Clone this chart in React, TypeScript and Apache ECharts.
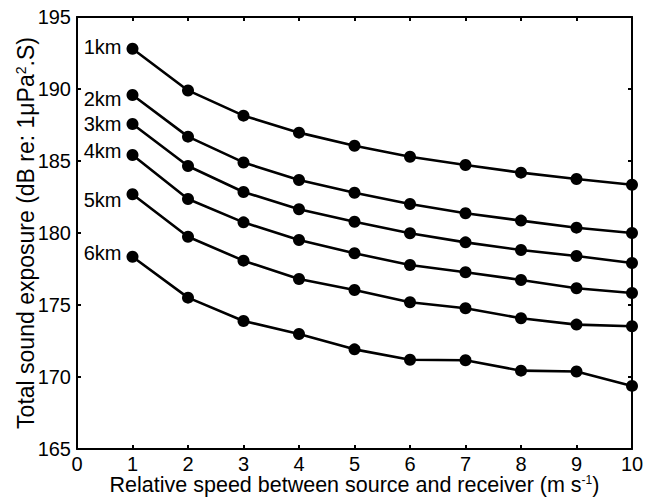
import React, { useEffect, useRef } from "react";
import * as echarts from "echarts";

const speeds = [1, 2, 3, 4, 5, 6, 7, 8, 9, 10];
const rangeNames = ["1km", "2km", "3km", "4km", "5km", "6km"];
const km1 = [192.8, 189.9, 188.15, 186.97, 186.06, 185.3, 184.72, 184.19, 183.75, 183.35];
const km2 = [189.58, 186.69, 184.9, 183.68, 182.8, 182.01, 181.37, 180.86, 180.37, 180.0];
const km3 = [187.57, 184.65, 182.85, 181.65, 180.78, 179.98, 179.35, 178.82, 178.4, 177.92];
const km4 = [185.42, 182.36, 180.74, 179.51, 178.59, 177.78, 177.27, 176.74, 176.16, 175.83];
const km5 = [182.69, 179.74, 178.08, 176.81, 176.04, 175.19, 174.77, 174.08, 173.64, 173.52];
const km6 = [178.35, 175.51, 173.89, 172.99, 171.92, 171.2, 171.16, 170.44, 170.38, 169.38];
const allSeries = [km1, km2, km3, km4, km5, km6];
const labelOffsets = [-2, 4, 0, -4, 6, -4];

const FONT = "'Liberation Sans', Arial, Helvetica, sans-serif";

export default function App() {
  const ref = useRef<HTMLDivElement>(null);
  useEffect(() => {
    if (!ref.current) return;
    const chart = echarts.init(ref.current, null, { renderer: "svg" });
    const axisLine = { show: true, onZero: false, lineStyle: { color: "#000", width: 2 } };
    const tickStyle = { show: true, inside: true, length: 4, lineStyle: { color: "#000", width: 2 } };
    const series = allSeries.map((vals, si) => ({
      type: "line",
      name: rangeNames[si],
      xAxisIndex: 0,
      yAxisIndex: 0,
      symbol: "circle",
      symbolSize: 12,
      showSymbol: true,
      lineStyle: { color: "#000", width: 2.6 },
      itemStyle: { color: "#000" },
      data: vals.map((v, i) =>
        i === 0
          ? {
              value: [speeds[i], v],
              label: {
                show: true,
                position: "left",
                distance: 5,
                offset: [0, labelOffsets[si]],
                formatter: rangeNames[si],
                color: "#000",
                fontSize: 20,
                fontFamily: FONT,
              },
            }
          : { value: [speeds[i], v] }
      ),
    }));
    chart.setOption({
      animation: false,
      backgroundColor: "#fff",
      textStyle: { fontFamily: FONT },
      grid: {
        left: 77,
        right: 23,
        top: 17,
        bottom: 48,
        containLabel: false,
        outerBoundsMode: "none",
      },
      xAxis: [
        {
          type: "value",
          min: 0,
          max: 10,
          interval: 1,
          position: "bottom",
          axisLine,
          axisTick: tickStyle,
          splitLine: { show: false },
          axisLabel: { color: "#000", fontSize: 20, margin: 5, fontFamily: FONT },
          name: "Relative speed between source and receiver (m s{sup|-1})",
          nameLocation: "middle",
          nameGap: 25,
          nameMoveOverlap: false,
          nameTextStyle: {
            color: "#000",
            fontSize: 21.5,
            fontFamily: FONT,
            rich: { sup: { fontSize: 12, verticalAlign: "top", color: "#000", fontFamily: FONT } },
          },
        },
        {
          type: "value",
          min: 0,
          max: 10,
          interval: 1,
          position: "top",
          axisLine,
          axisTick: tickStyle,
          axisLabel: { show: false },
          splitLine: { show: false },
        },
      ],
      yAxis: [
        {
          type: "value",
          min: 165,
          max: 195,
          interval: 5,
          position: "left",
          axisLine,
          axisTick: tickStyle,
          splitLine: { show: false },
          axisLabel: { color: "#000", fontSize: 20, margin: 6, fontFamily: FONT },
          name: "Total sound exposure (dB re: 1μPa{sup|2}.S)",
          nameLocation: "middle",
          nameGap: 40,
          nameMoveOverlap: false,
          nameTextStyle: {
            color: "#000",
            fontSize: 23,
            fontFamily: FONT,
            rich: { sup: { fontSize: 14, verticalAlign: "top", color: "#000", fontFamily: FONT } },
          },
        },
        {
          type: "value",
          min: 165,
          max: 195,
          interval: 5,
          position: "right",
          axisLine,
          axisTick: tickStyle,
          axisLabel: { show: false },
          splitLine: { show: false },
        },
      ],
      series,
    });
    return () => chart.dispose();
  }, []);
  return (
    <div
      ref={ref}
      style={{ position: "fixed", left: 0, top: 0, width: 655, height: 497 }}
    />
  );
}
